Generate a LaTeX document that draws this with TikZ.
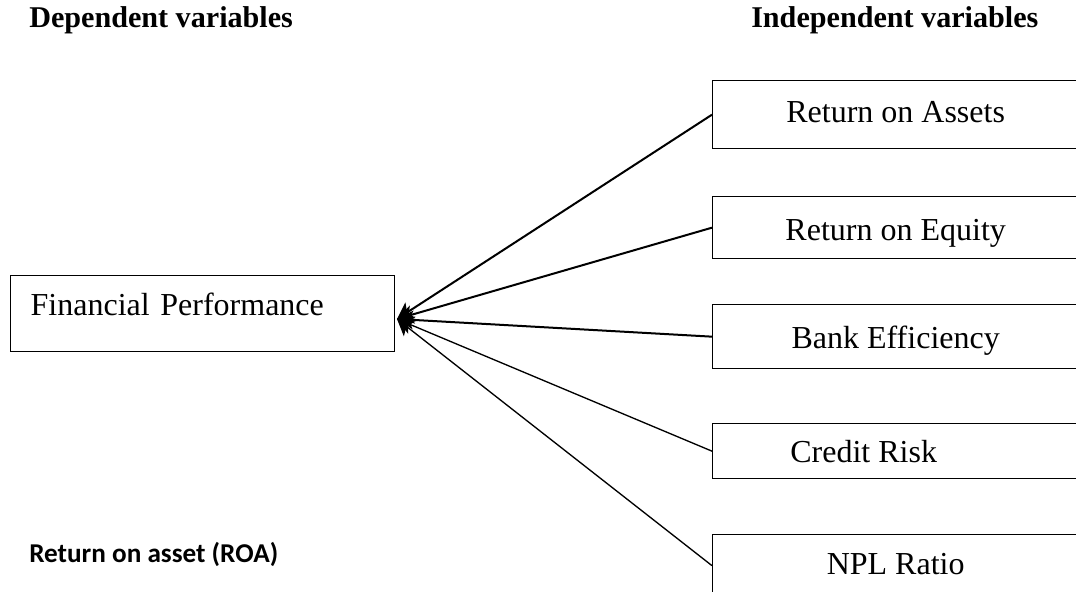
\documentclass[tikz,border=0pt]{standalone}
\usepackage{fontspec}
\setmainfont{Liberation Serif}
\newfontfamily\calibri{Carlito}
\usetikzlibrary{arrows.meta}

\begin{document}
\begin{tikzpicture}[
    x=0.75pt, y=-0.75pt,
    varbox/.style={rectangle, draw, line width=1pt, anchor=north west, minimum width=274.5pt, text height=16.5pt, text depth=#1, font=\fontsize{24}{28}\selectfont},
    varbox/.default=3.7pt,
    depbox/.style={rectangle, draw, line width=1pt, anchor=north west, text width=258pt, align=left, inner xsep=15pt, minimum height=57pt, text height=16.5pt, text depth=14.2pt, font=\fontsize{24}{28}\selectfont},
    head/.style={anchor=base west, inner sep=0pt, font=\fontsize{22.6}{26}\selectfont\bfseries},
    note/.style={anchor=base west, inner sep=0pt, font=\calibri\fontsize{20.4}{24}\selectfont\bfseries},
    link/.style={-{Stealth[length=12pt, width=14pt, inset=3pt]}, line width=1pt},
    heavy/.style={line width=1.5pt}
]
\useasboundingbox (0,0) rectangle (1076,592);
\clip (0,0) rectangle (1076,592);

% headings
\node[head] (dep) at (29,28) {Dependent variables};
\node[head] (indep) at (751,28) {Independent variables};

% dependent variable
\node[depbox] (fp) at (10,275) {Financial Performance};
\coordinate (tip) at (397,319);

% independent variables
\node[varbox=5.2pt, minimum height=51pt] (roa) at (712,80) {Return on Assets};
\node[varbox=0pt, text height=18.8pt, minimum height=46.5pt] (roe) at (712,196) {Return on Equity};
\node[varbox=0pt, text height=17.3pt, minimum height=48pt] (eff) at (712,304) {Bank Efficiency};
\node[varbox=0pt, minimum height=41.25pt] (risk) at (712,423) {Credit Risk\hspace*{48pt}};
\node[varbox=3.7pt, minimum height=46.5pt] (npl) at (712,534) {NPL Ratio};

\node[note] (roanote) at (29,562) {Return on asset (ROA)};

\draw[link, heavy] (roa.west) -- (tip);
\draw[link, heavy] (roe.west) -- (tip);
\draw[link, heavy] (eff.west) -- (tip);
\draw[link] (risk.west) -- (tip);
\draw[link] (npl.west) -- (tip);

\end{tikzpicture}
\end{document}
